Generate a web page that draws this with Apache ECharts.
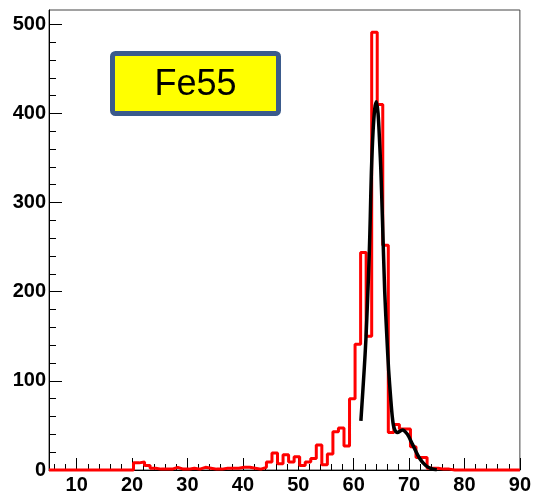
<!DOCTYPE html>
<html>
<head>
<meta charset="utf-8">
<script src="https://cdn.jsdelivr.net/npm/echarts@6/dist/echarts.min.js"></script>
<style>
  html, body { margin: 0; padding: 0; background: #fff; }
  #chart { width: 534px; height: 495px; }
</style>
</head>
<body>
<div id="chart"></div>
<script>
// histogram: 1-unit bins, first bin starts at histStart
var histStart = 4.25;
var binWidth = 1;
var histCounts = [
  0,                                              // 4.25
  0, 0, 0, 0, 0, 0, 0, 0, 0, 0, 0, 0, 0, 0, 0,    // 5.25 .. 19.25
  8, 9, 5, 2, 1, 1, 1, 3, 1, 1,                   // 20.25 .. 29.25
  2, 1, 3, 2, 1, 1, 2, 2, 2, 3,                   // 30.25 .. 39.25
  3, 2, 1, 3, 9, 19, 7, 17, 9, 15,                // 40.25 .. 49.25
  5, 9, 13, 28, 6, 18, 43, 47, 27, 80,            // 50.25 .. 59.25
  141, 244, 150, 491, 410, 252, 42, 51, 46, 46,   // 60.25 .. 69.25
  26, 14, 14, 2, 2, 1, 1, 0, 0, 0,                // 70.25 .. 79.25
  0, 0, 0, 0, 0, 0, 0, 0, 0, 0                    // 80.25 .. 89.25
];

// fit curve
var fitX = [61.3, 61.9, 62.2, 62.5, 62.8, 63.0, 63.2, 63.5, 63.8, 64.1, 64.4, 64.7, 64.9, 65.2,
            65.6, 66.0, 66.3, 66.7, 67.0, 67.3, 67.9, 68.8, 69.7, 70.6, 71.8, 73.0, 74.0, 75.0];
var fitY = [55, 113, 146, 190, 240, 285, 335, 380, 405, 413, 400, 365, 337, 280,
            200, 148, 113, 79, 58, 47, 42, 45, 40, 29, 14, 5, 1.5, 0.3];

var xMajor = [10, 20, 30, 40, 50, 60, 70, 80, 90];
var xMinor = [6, 8, 12, 14, 16, 18, 22, 24, 26, 28, 32, 34, 36, 38, 42, 44, 46, 48,
              52, 54, 56, 58, 62, 64, 66, 68, 72, 74, 76, 78, 82, 84, 86, 88];
var yMajor = [0, 100, 200, 300, 400, 500];
var yMinor = [20, 40, 60, 80, 120, 140, 160, 180, 220, 240, 260, 280,
              320, 340, 360, 380, 420, 440, 460, 480];

var legendText = 'Fe55';

var X_MIN = 5, X_MAX = 90, Y_MAX = 516;

function histPoints() {
  var pts = [];
  for (var i = 0; i < histCounts.length; i++) {
    var lo = histStart + i * binWidth;
    pts.push([Math.max(lo, X_MIN), histCounts[i]]);
  }
  var last = histStart + histCounts.length * binWidth;
  pts.push([Math.min(last, X_MAX), histCounts[histCounts.length - 1]]);
  return pts;
}

function fitPoints() {
  var pts = [];
  for (var i = 0; i < fitX.length; i++) {
    pts.push([fitX[i], fitY[i]]);
  }
  return pts;
}

var labelFont = {
  color: '#000',
  fontFamily: 'Liberation Sans',
  fontWeight: 'bold',
  fontSize: 20
};

var myChart = echarts.init(document.getElementById('chart'));
var option = {
  animation: false,
  backgroundColor: '#fff',
  grid: {
    left: 49, right: 11, top: 10, bottom: 24,
    show: true,
    borderColor: '#444',
    borderWidth: 1
  },
  xAxis: [
    {
      type: 'value',
      min: X_MIN,
      max: X_MAX,
      position: 'bottom',
      axisLine: { show: true, lineStyle: { color: '#000', width: 1 } },
      axisTick: { show: true, inside: true, length: 12, customValues: xMajor, lineStyle: { color: '#000' } },
      axisLabel: Object.assign({ margin: 5, customValues: xMajor }, labelFont),
      splitLine: { show: false }
    },
    {
      type: 'value',
      min: X_MIN,
      max: X_MAX,
      position: 'bottom',
      axisLine: { show: false },
      axisTick: { show: true, inside: true, length: 6, customValues: xMinor, lineStyle: { color: '#000' } },
      axisLabel: { show: false },
      splitLine: { show: false }
    }
  ],
  yAxis: [
    {
      type: 'value',
      min: 0,
      max: Y_MAX,
      position: 'left',
      axisLine: { show: true, lineStyle: { color: '#000', width: 1 } },
      axisTick: { show: true, inside: true, length: 13, customValues: yMajor, lineStyle: { color: '#000' } },
      axisLabel: Object.assign({ margin: 3, customValues: yMajor }, labelFont),
      splitLine: { show: false }
    },
    {
      type: 'value',
      min: 0,
      max: Y_MAX,
      position: 'left',
      axisLine: { show: false },
      axisTick: { show: true, inside: true, length: 7, customValues: yMinor, lineStyle: { color: '#000' } },
      axisLabel: { show: false },
      splitLine: { show: false }
    }
  ],
  graphic: [
    {
      type: 'rect',
      z: 100,
      shape: { x: 112.5, y: 53.5, width: 166, height: 60, r: 3 },
      style: { fill: '#ffff00', stroke: '#3b5b8c', lineWidth: 5 }
    },
    {
      type: 'text',
      z: 101,
      x: 195.5,
      y: 85.5,
      style: {
        text: legendText,
        fill: '#000',
        fontFamily: 'Liberation Sans',
        fontSize: 36,
        align: 'center',
        verticalAlign: 'middle'
      }
    }
  ],
  series: [
    {
      name: 'hist',
      type: 'line',
      step: 'end',
      data: histPoints(),
      symbol: 'none',
      clip: false,
      lineStyle: { color: '#ff0000', width: 3 },
      z: 3
    },
    {
      name: 'fit',
      type: 'line',
      data: fitPoints(),
      symbol: 'none',
      smooth: 0.3,
      lineStyle: { color: '#000', width: 3.5 },
      z: 4
    }
  ]
};
myChart.setOption(option);
window.onresize = myChart.resize;
</script>
</body>
</html>
